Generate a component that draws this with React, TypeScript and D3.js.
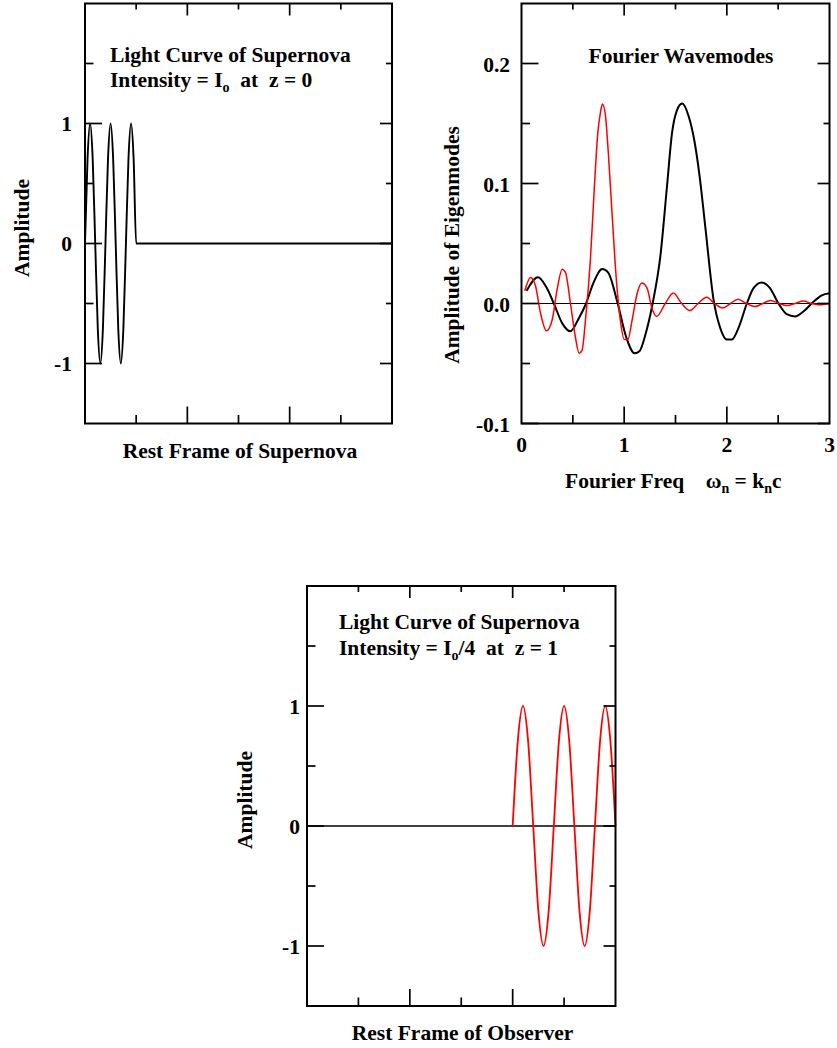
import React from 'react';
import * as d3 from 'd3';

// ---------- DATA ----------
// Panel 1: light curve in the supernova rest frame (z = 0)
const restTime = [0, 0.025, 0.05, 0.075, 0.1, 0.125, 0.15, 0.175, 0.2, 0.225, 0.25, 0.275, 0.3, 0.325, 0.35, 0.375, 0.4, 0.425, 0.45, 0.475, 0.5, 3.0];
const restAmp = [0, 0.71, 1, 0.71, 0, -0.71, -1, -0.71, 0, 0.71, 1, 0.71, 0, -0.71, -1, -0.71, 0, 0.71, 1, 0.71, 0, 0];

// Panel 3: light curve in the observer frame (z = 1)
const obsTime = [2, 2.05, 2.1, 2.15, 2.2, 2.25, 2.3, 2.35, 2.4, 2.45, 2.5, 2.55, 2.6, 2.65, 2.7, 2.75, 2.8, 2.85, 2.9, 2.95, 3.0];
const obsAmp = [0, 0.71, 1, 0.71, 0, -0.71, -1, -0.71, 0, 0.71, 1, 0.71, 0, -0.71, -1, -0.71, 0, 0.71, 1, 0.71, 0];
const zeroLineX = [0, 3];

// Panel 2: Fourier wavemodes
const blackFreq = [0.05, 0.16, 0.24, 0.315, 0.40, 0.475, 0.56, 0.629, 0.70, 0.787, 0.843, 0.937, 1.02, 1.102, 1.151, 1.21, 1.277, 1.352, 1.417, 1.466, 1.514, 1.565, 1.628, 1.683, 1.735, 1.79, 1.871, 1.936, 2.0, 2.05, 2.113, 2.195, 2.26, 2.34, 2.42, 2.503, 2.584, 2.664, 2.746, 2.843, 2.925, 3.0];
const blackAmp = [0.0106, 0.0218, 0.0139, 0, -0.017, -0.0232, -0.012, 0, 0.017, 0.0287, 0.0259, 0, -0.028, -0.0414, -0.0395, -0.025, 0, 0.039, 0.0975, 0.142, 0.161, 0.1666, 0.156, 0.136, 0.106, 0.064, 0.003, -0.0205, -0.030, -0.030, -0.0205, 0, 0.0128, 0.0175, 0.0128, 0, -0.0089, -0.0108, -0.0067, 0.0014, 0.0068, 0.0085];

const redFreq = [0.032, 0.088, 0.136, 0.185, 0.243, 0.298, 0.347, 0.396, 0.428, 0.477, 0.525, 0.561, 0.59, 0.623, 0.671, 0.71, 0.743, 0.768, 0.788, 0.817, 0.846, 0.882, 0.924, 0.963, 1.002, 1.035, 1.077, 1.126, 1.172, 1.223, 1.271, 1.316, 1.40, 1.478, 1.56, 1.64, 1.72, 1.803, 1.88, 1.958, 2.035, 2.11, 2.19, 2.273, 2.35, 2.426, 2.51, 2.588, 2.665, 2.744, 2.825, 2.906, 3.0];
const redAmp = [0.0106, 0.0217, 0.0148, -0.008, -0.0228, -0.014, 0.0117, 0.0286, 0.0259, 0, -0.028, -0.0414, -0.039, -0.014, 0.0364, 0.0975, 0.142, 0.1586, 0.1662, 0.157, 0.125, 0.075, 0.0197, -0.014, -0.030, -0.030, -0.014, 0.0083, 0.017, 0.0128, -0.004, -0.0108, 0, 0.0087, 0, -0.0058, 0, 0.0053, 0, -0.0038, 0, 0.0036, 0, -0.0025, 0, 0.0025, 0, -0.0017, 0, 0.002, 0, -0.001, 0];

// tick values
const ampMajor = [-1, 0, 1];
const ampMinor = [-0.5, 0.5, 1.5];
const ampLabels = ['-1', '0', '1'];
const freqMajorY = [-0.1, 0, 0.1, 0.2];
const freqMinorY = [-0.05, 0.05, 0.15];
const freqYLabels = ['-0.1', '0.0', '0.1', '0.2'];
const xMajor = [1, 2];
const xMinor = [0.5, 1.5, 2.5];
const freqXTicks = [0, 1, 2, 3];
const freqXLabels = ['0', '1', '2', '3'];

const FONT = '"Liberation Serif", "Times New Roman", Times, serif';
const FS = 21.5;
const SP = '\u00A0';

type Sc = d3.ScaleLinear<number, number>;

function Frame({ x, y, yMajor, yMinor }: { x: Sc; y: Sc; yMajor: number[]; yMinor: number[] }) {
  const [l, r] = x.range();
  const [b, t] = y.range();
  const sw = 1.7;
  const els: any[] = [];
  xMajor.forEach((v, i) => {
    els.push(<line key={'xb' + i} x1={x(v)} x2={x(v)} y1={b} y2={b - 17} stroke="#000" strokeWidth={sw} />);
    els.push(<line key={'xt' + i} x1={x(v)} x2={x(v)} y1={t} y2={t + 12} stroke="#000" strokeWidth={sw} />);
  });
  xMinor.forEach((v, i) => {
    els.push(<line key={'xmb' + i} x1={x(v)} x2={x(v)} y1={b} y2={b - 8.5} stroke="#000" strokeWidth={sw} />);
    els.push(<line key={'xmt' + i} x1={x(v)} x2={x(v)} y1={t} y2={t + 6} stroke="#000" strokeWidth={sw} />);
  });
  yMajor.forEach((v, i) => {
    els.push(<line key={'yl' + i} x1={l} x2={l + 17} y1={y(v)} y2={y(v)} stroke="#000" strokeWidth={sw} />);
    els.push(<line key={'yr' + i} x1={r} x2={r - 12} y1={y(v)} y2={y(v)} stroke="#000" strokeWidth={sw} />);
  });
  yMinor.forEach((v, i) => {
    els.push(<line key={'yml' + i} x1={l} x2={l + 8.5} y1={y(v)} y2={y(v)} stroke="#000" strokeWidth={sw} />);
    els.push(<line key={'ymr' + i} x1={r} x2={r - 6} y1={y(v)} y2={y(v)} stroke="#000" strokeWidth={sw} />);
  });
  return (
    <g>
      {els}
      <rect x={l} y={t} width={r - l} height={b - t} fill="none" stroke="#000" strokeWidth={2} />
    </g>
  );
}

function pts(xs: number[], ys: number[]): [number, number][] {
  return xs.map((v, i) => [v, ys[i]]);
}

export default function App() {
  // Panel 1
  const x1 = d3.scaleLinear().domain([0, 3]).range([85, 392]);
  const y1 = d3.scaleLinear().domain([-1.5, 2]).range([423.5, 3.5]);
  // Panel 2
  const x2 = d3.scaleLinear().domain([0, 3]).range([521.5, 829.5]);
  const y2 = d3.scaleLinear().domain([-0.1, 0.25]).range([423.5, 3.5]);
  // Panel 3
  const x3 = d3.scaleLinear().domain([0, 3]).range([307, 615.5]);
  const y3 = d3.scaleLinear().domain([-1.5, 2]).range([1006, 586]);

  const mk = (x: Sc, y: Sc, curve: any = d3.curveMonotoneX) =>
    d3.line<[number, number]>().x(d => x(d[0])).y(d => y(d[1])).curve(curve);

  const textStyle: any = { fontFamily: FONT, fontWeight: 'bold', fontSize: FS };

  return (
    <svg width={837} height={1048} style={{ position: 'absolute', left: 0, top: 0, background: '#fff' }}>
      <rect x={0} y={0} width={837} height={1048} fill="#fff" />
      <g style={textStyle} fill="#000">
        {/* ---------- Panel 1 ---------- */}
        <path d={mk(x1, y1)(pts(restTime, restAmp)) || ''} fill="none" stroke="#000" strokeWidth={1.9} />
        <Frame x={x1} y={y1} yMajor={ampMajor} yMinor={ampMinor} />
        {ampMajor.map((v, i) => (
          <text key={'a1' + i} x={72} y={y1(v) + 7.5} textAnchor="end">{ampLabels[i]}</text>
        ))}
        <text x={110} y={62}>Light Curve of Supernova</text>
        <text x={110} y={87}>Intensity = I<tspan fontSize={14} dy={5}>o</tspan><tspan dy={-5}>{`${SP}${SP}at${SP}${SP}z = 0`}</tspan></text>
        <text x={240} y={458} textAnchor="middle">Rest Frame of Supernova</text>
        <text transform={`translate(29,228) rotate(-90)`} textAnchor="middle">Amplitude</text>

        {/* ---------- Panel 2 ---------- */}
        <line x1={x2(0)} x2={x2(3)} y1={y2(0)} y2={y2(0)} stroke="#000" strokeWidth={1} />
        <path d={mk(x2, y2)(pts(blackFreq, blackAmp)) || ''} fill="none" stroke="#000" strokeWidth={2} />
        <path d={mk(x2, y2)(pts(redFreq, redAmp)) || ''} fill="none" stroke="#ff0000" strokeWidth={1.5} />
        <Frame x={x2} y={y2} yMajor={freqMajorY} yMinor={freqMinorY} />
        {freqMajorY.map((v, i) => (
          <text key={'f2' + i} x={510} y={y2(v) + 8} textAnchor="end">{freqYLabels[i]}</text>
        ))}
        {freqXTicks.map((v, i) => (
          <text key={'fx' + i} x={x2(v)} y={452} textAnchor="middle">{freqXLabels[i]}</text>
        ))}
        <text x={681} y={63} textAnchor="middle">Fourier Wavemodes</text>
        <text x={565} y={488}>{`Fourier Freq${SP}${SP}${SP}${SP}ω`}<tspan fontSize={14} dy={5}>n</tspan><tspan dy={-5}>{`${SP}=${SP}k`}</tspan><tspan fontSize={14} dy={5}>n</tspan><tspan dy={-5}>c</tspan></text>
        <text transform={`translate(459,245) rotate(-90)`} textAnchor="middle">Amplitude of Eigenmodes</text>

        {/* ---------- Panel 3 ---------- */}
        <line x1={x3(zeroLineX[0])} x2={x3(zeroLineX[1])} y1={y3(0)} y2={y3(0)} stroke="#000" strokeWidth={1.6} />
        <path d={mk(x3, y3)(pts(obsTime, obsAmp)) || ''} fill="none" stroke="#ff0000" strokeWidth={1.8} />
        <Frame x={x3} y={y3} yMajor={ampMajor} yMinor={ampMinor} />
        {ampMajor.map((v, i) => (
          <text key={'a3' + i} x={300} y={y3(v) + 7.5} textAnchor="end">{ampLabels[i]}</text>
        ))}
        <text x={339} y={629}>Light Curve of Supernova</text>
        <text x={339} y={655}>Intensity = I<tspan fontSize={14} dy={5}>o</tspan><tspan dy={-5}>{`/4${SP}${SP}at${SP}${SP}z = 1`}</tspan></text>
        <text x={462.5} y={1040} textAnchor="middle">Rest Frame of Observer</text>
        <text transform={`translate(252,800) rotate(-90)`} textAnchor="middle">Amplitude</text>
      </g>
    </svg>
  );
}
